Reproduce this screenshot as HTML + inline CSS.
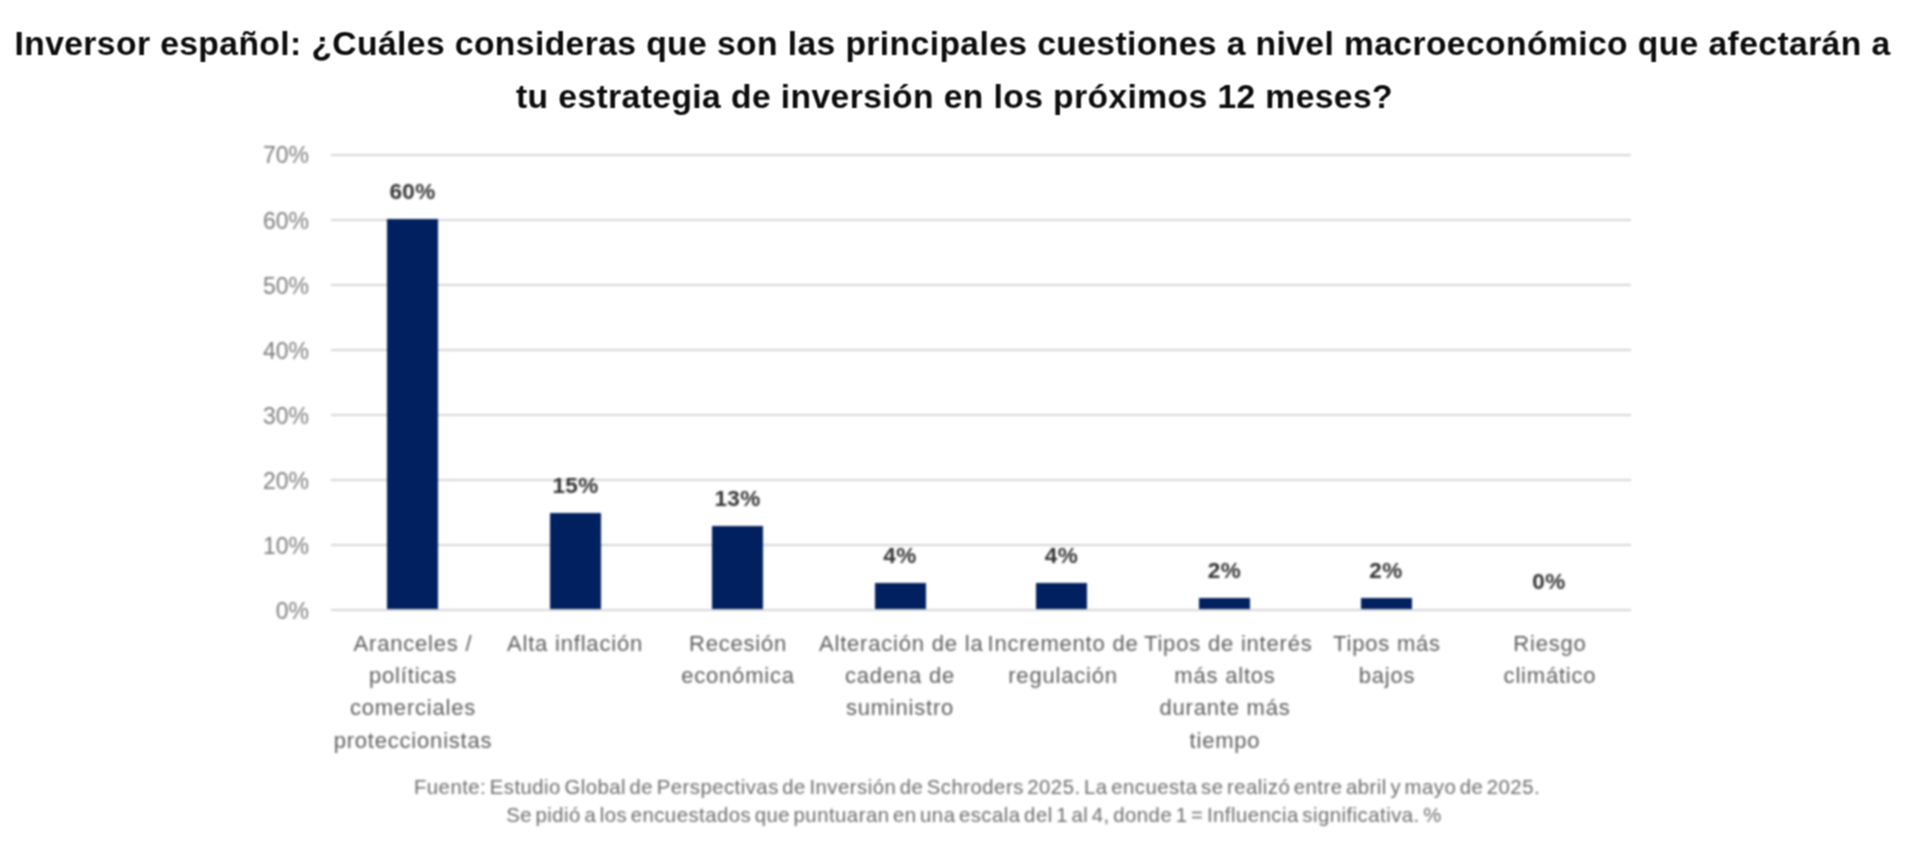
<!DOCTYPE html>
<html lang="es">
<head>
<meta charset="utf-8">
<title>Inversor español: cuestiones macroeconómicas</title>
<style>
html,body{margin:0;padding:0;background:#fff;}
.wrap{position:absolute;left:0;top:0;width:1920px;height:848px;filter:blur(0.8px);}
body{width:1920px;height:848px;position:relative;overflow:hidden;font-family:"Liberation Sans",Arial,sans-serif;}
.title{filter:url(#soft);position:absolute;left:0;width:1905px;top:17px;text-align:center;font-weight:bold;font-size:33.6px;letter-spacing:0.43px;line-height:53px;color:#0c0c0c;margin:0;}
.grid{position:absolute;left:331px;width:1300px;height:2px;background:#d6d6d6;}
.ylab{position:absolute;left:230px;width:79px;text-align:right;font-size:23px;line-height:26px;color:#7c7c7c;}
.bar{position:absolute;width:51px;background:#002060;}
.dlab{position:absolute;width:120px;text-align:center;font-weight:bold;font-size:22.5px;letter-spacing:0.4px;line-height:24px;color:#333333;}
.xlab{position:absolute;top:628px;width:162px;text-align:center;font-size:22px;letter-spacing:0.8px;line-height:32.2px;color:#5e5e5e;white-space:nowrap;}
.foot{position:absolute;left:0;width:1948px;top:773px;text-align:center;font-size:20.3px;letter-spacing:0.5px;word-spacing:-2.6px;line-height:28px;color:#6c6c6c;}
</style>
</head>
<body>
<svg width="0" height="0" style="position:absolute;left:0;top:0"><filter id="soft" x="-2%" y="-10%" width="104%" height="120%"><feConvolveMatrix order="3" kernelMatrix="1 2 1 2 4 2 1 2 1" divisor="16" edgeMode="none"/></filter></svg>
<h1 class="title">Inversor español: ¿Cuáles consideras que son las principales cuestiones a nivel macroeconómico que afectarán a<br><span style="position:relative;left:2px">tu estrategia de inversión en los próximos 12 meses?</span></h1>
<div class="wrap">


<div class="grid" style="top:154px"></div>
<div class="grid" style="top:219px"></div>
<div class="grid" style="top:284px"></div>
<div class="grid" style="top:349px"></div>
<div class="grid" style="top:414px"></div>
<div class="grid" style="top:479px"></div>
<div class="grid" style="top:544px"></div>
<div class="grid" style="top:609px"></div>

<div class="ylab" style="top:141.5px">70%</div>
<div class="ylab" style="top:208px">60%</div>
<div class="ylab" style="top:273px">50%</div>
<div class="ylab" style="top:338px">40%</div>
<div class="ylab" style="top:403px">30%</div>
<div class="ylab" style="top:468px">20%</div>
<div class="ylab" style="top:533px">10%</div>
<div class="ylab" style="top:598px">0%</div>

<div class="bar" style="left:387px;top:219px;height:390px"></div>
<div class="bar" style="left:550px;top:513px;height:96px"></div>
<div class="bar" style="left:712px;top:526px;height:83px"></div>
<div class="bar" style="left:875px;top:583px;height:26px"></div>
<div class="bar" style="left:1036px;top:583px;height:26px"></div>
<div class="bar" style="left:1199px;top:598px;height:11px"></div>
<div class="bar" style="left:1361px;top:598px;height:11px"></div>

<div class="dlab" style="left:352.5px;top:180px">60%</div>
<div class="dlab" style="left:515.5px;top:474px">15%</div>
<div class="dlab" style="left:677.5px;top:487px">13%</div>
<div class="dlab" style="left:840px;top:544px">4%</div>
<div class="dlab" style="left:1001.5px;top:544px">4%</div>
<div class="dlab" style="left:1164.5px;top:559px">2%</div>
<div class="dlab" style="left:1326px;top:559px">2%</div>
<div class="dlab" style="left:1489px;top:570px">0%</div>

<div class="xlab" style="left:332px">Aranceles /<br>políticas<br>comerciales<br>proteccionistas</div>
<div class="xlab" style="left:494px">Alta inflación</div>
<div class="xlab" style="left:657px">Recesión<br>económica</div>
<div class="xlab" style="left:819px">Alteración de la<br>cadena de<br>suministro</div>
<div class="xlab" style="left:982px">Incremento de<br>regulación</div>
<div class="xlab" style="left:1144px">Tipos de interés<br>más altos<br>durante más<br>tiempo</div>
<div class="xlab" style="left:1306px">Tipos más<br>bajos</div>
<div class="xlab" style="left:1469px">Riesgo<br>climático</div>

<div class="foot"><span style="position:relative;left:3px">Fuente: Estudio Global de Perspectivas de Inversión de Schroders 2025. La encuesta se realizó entre abril y mayo de 2025.</span><br>Se pidió a los encuestados que puntuaran en una escala del 1 al 4, donde 1 = Influencia significativa. %</div>
</div>
</body>
</html>
